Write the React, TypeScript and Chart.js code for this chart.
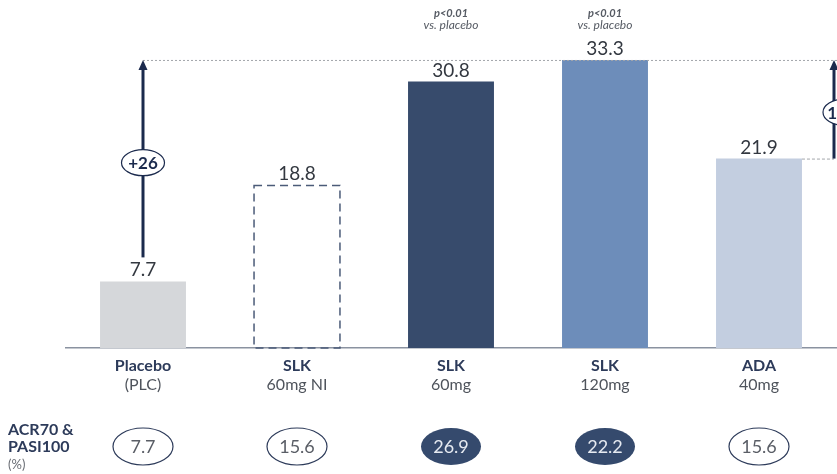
import React, { useEffect, useRef } from 'react';
import { Chart, registerables } from 'chart.js';

Chart.register(...registerables);

const categories = ['Placebo', 'SLK', 'SLK', 'SLK', 'ADA'];
const subLabels = ['(PLC)', '60mg NI', '60mg', '120mg', '40mg'];
const values = [7.7, 18.8, 30.8, 33.3, 21.9];
const valueLabels = ['7.7', '18.8', '30.8', '33.3', '21.9'];
const acrPasi = ['7.7', '15.6', '26.9', '22.2', '15.6'];
const acrFilled = [false, false, true, true, false];
const dashedBar = [false, true, false, false, false];
const pNotes = ['', '', 'p<0.01', 'p<0.01', ''];
const rowLabel = ['ACR70 &', 'PASI100', '(%)'];
const diffLeft = '+26';
const diffRight = '11.4';

const barColors = ['#d5d7da', 'rgba(255,255,255,0)', '#374b6c', '#6d8dba', '#c3cee0'];
const FONT = 'Lato, "Open Sans", sans-serif';
const NAVY = '#1b2a4d';

function ellipse(ctx: CanvasRenderingContext2D, cx: number, cy: number, rx: number, ry: number, fill: string, stroke: string | null, lw: number) {
  ctx.beginPath();
  ctx.ellipse(cx, cy, rx, ry, 0, 0, Math.PI * 2);
  ctx.fillStyle = fill;
  ctx.fill();
  if (stroke) {
    ctx.lineWidth = lw;
    ctx.strokeStyle = stroke;
    ctx.stroke();
  }
}

function arrow(ctx: CanvasRenderingContext2D, x: number, yBottom: number, yTop: number) {
  ctx.save();
  ctx.strokeStyle = NAVY;
  ctx.fillStyle = NAVY;
  ctx.lineWidth = 3;
  ctx.beginPath();
  ctx.moveTo(x, yBottom);
  ctx.lineTo(x, yTop + 8);
  ctx.stroke();
  ctx.beginPath();
  ctx.moveTo(x, yTop);
  ctx.lineTo(x - 4.5, yTop + 10);
  ctx.lineTo(x + 4.5, yTop + 10);
  ctx.closePath();
  ctx.fill();
  ctx.restore();
}

const annotations = {
  id: 'annotations',
  afterDatasetsDraw(chart: any) {
    const ctx: CanvasRenderingContext2D = chart.ctx;
    const area = chart.chartArea;
    const yS = chart.scales.y;
    const meta = chart.getDatasetMeta(0);
    const bars = meta.data.map((b: any) => b.getProps(['x', 'y', 'base', 'width'], true));
    const maxIdx = values.indexOf(Math.max(...values));
    const maxY = yS.getPixelForValue(values[maxIdx]);
    const lastIdx = values.length - 1;
    const rightX = area.right - 2;

    ctx.save();
    // dashed bar outlines
    bars.forEach((b: any, i: number) => {
      if (!dashedBar[i]) return;
      ctx.save();
      ctx.setLineDash([8, 5]);
      ctx.strokeStyle = '#4b5b78';
      ctx.lineWidth = 1.5;
      ctx.strokeRect(b.x - b.width / 2, b.y, b.width, b.base - b.y);
      ctx.restore();
    });

    // dotted reference line at the maximum
    ctx.save();
    ctx.setLineDash([2, 2]);
    ctx.strokeStyle = '#a3a6ab';
    ctx.lineWidth = 1;
    ctx.beginPath();
    ctx.moveTo(bars[0].x, maxY + 0.5);
    ctx.lineTo(area.right + 2, maxY + 0.5);
    ctx.stroke();
    // dashed line at last bar level
    const lastB = bars[lastIdx];
    ctx.beginPath();
    ctx.setLineDash([3, 2]);
    ctx.moveTo(lastB.x + lastB.width / 2, lastB.y + 0.5);
    ctx.lineTo(rightX, lastB.y + 0.5);
    ctx.stroke();
    ctx.restore();

    // value labels
    ctx.font = `19px ${FONT}`;
    ctx.textAlign = 'center';
    ctx.textBaseline = 'alphabetic';
    bars.forEach((b: any, i: number) => {
      const t = valueLabels[i];
      const w = ctx.measureText(t).width;
      ctx.fillStyle = '#ffffff';
      ctx.fillRect(b.x - w / 2 - 7, b.y - 20, w + 14, 16);
      ctx.fillStyle = '#333840';
      ctx.fillText(t, b.x, b.y - 5);
    });

    // p-value notes
    bars.forEach((b: any, i: number) => {
      if (!pNotes[i]) return;
      ctx.fillStyle = '#555a63';
      ctx.font = `italic bold 11px ${FONT}`;
      ctx.fillText(pNotes[i], b.x, 17);
      ctx.font = `italic 12px ${FONT}`;
      ctx.fillText('vs. placebo', b.x, 29);
    });

    // left arrow (placebo -> max)
    const b0 = bars[0];
    arrow(ctx, b0.x, b0.y - 24, maxY);
    const midL = (b0.y - 24 + maxY) / 2 + 4;
    ellipse(ctx, b0.x, midL, 21.5, 13, '#ffffff', NAVY, 1.2);
    ctx.fillStyle = NAVY;
    ctx.font = `bold 17px ${FONT}`;
    ctx.textBaseline = 'middle';
    ctx.fillText(diffLeft, b0.x, midL + 1);

    // right arrow (last -> max)
    arrow(ctx, rightX, lastB.y, maxY);
    const midR = (lastB.y + maxY) / 2 + 3;
    ellipse(ctx, rightX + 10, midR, 21, 13, '#ffffff', NAVY, 1.2);
    ctx.fillStyle = NAVY;
    ctx.fillText(diffRight, rightX + 10, midR + 1);

    // category labels
    bars.forEach((b: any, i: number) => {
      ctx.textBaseline = 'middle';
      ctx.fillStyle = '#2d3b5a';
      ctx.font = `bold 16px ${FONT}`;
      ctx.fillText(categories[i], b.x, area.bottom + 18);
      ctx.fillStyle = '#4f545c';
      ctx.font = `16px ${FONT}`;
      ctx.fillText(subLabels[i], b.x, area.bottom + 37);
    });

    // ACR70 & PASI100 row
    ctx.textAlign = 'left';
    ctx.fillStyle = '#2d3b5a';
    ctx.font = `bold 16px ${FONT}`;
    ctx.fillText(rowLabel[0], 8, 430);
    ctx.fillText(rowLabel[1], 8, 447);
    ctx.fillStyle = '#6a6e75';
    ctx.font = `13px ${FONT}`;
    ctx.fillText(rowLabel[2], 8, 465);

    ctx.textAlign = 'center';
    bars.forEach((b: any, i: number) => {
      const cy = 446.5;
      if (acrFilled[i]) {
        ellipse(ctx, b.x, cy, 30, 18.5, '#354a6d', null, 0);
        ctx.fillStyle = '#e6eaf1';
      } else {
        ellipse(ctx, b.x, cy, 30, 18.5, '#ffffff', '#2d3b5a', 1.2);
        ctx.fillStyle = '#5a5e66';
      }
      ctx.font = `18px ${FONT}`;
      ctx.fillText(acrPasi[i], b.x, cy + 1);
    });
    ctx.restore();
  },
};

export default function App() {
  const ref = useRef<HTMLCanvasElement | null>(null);
  useEffect(() => {
    if (!ref.current) return;
    const chart = new Chart(ref.current, {
      type: 'bar',
      data: {
        labels: categories.map((c, i) => `${c} ${subLabels[i]}`),
        datasets: [
          {
            data: values,
            backgroundColor: barColors,
            borderWidth: 0,
            categoryPercentage: 1,
            barPercentage: 0.558,
          },
        ],
      },
      options: {
        animation: false,
        responsive: false,
        layout: { padding: { top: 2, left: 66, right: 1, bottom: 0 } },
        plugins: { legend: { display: false }, tooltip: { enabled: false } },
        scales: {
          x: {
            display: true,
            grid: { display: false },
            ticks: { display: false },
            border: { display: true, color: '#8a92a0', width: 1.5 },
            afterFit: (scale: any) => {
              scale.height = 126;
            },
          },
          y: {
            display: false,
            min: 0,
            max: 40,
          },
        },
      },
      plugins: [annotations],
    });
    return () => chart.destroy();
  }, []);
  return (
    <div style={{ position: 'absolute', left: 0, top: 0, width: 837, height: 474, background: '#fff' }}>
      <canvas ref={ref} width={837} height={474} style={{ width: 837, height: 474, display: 'block' }} />
    </div>
  );
}
